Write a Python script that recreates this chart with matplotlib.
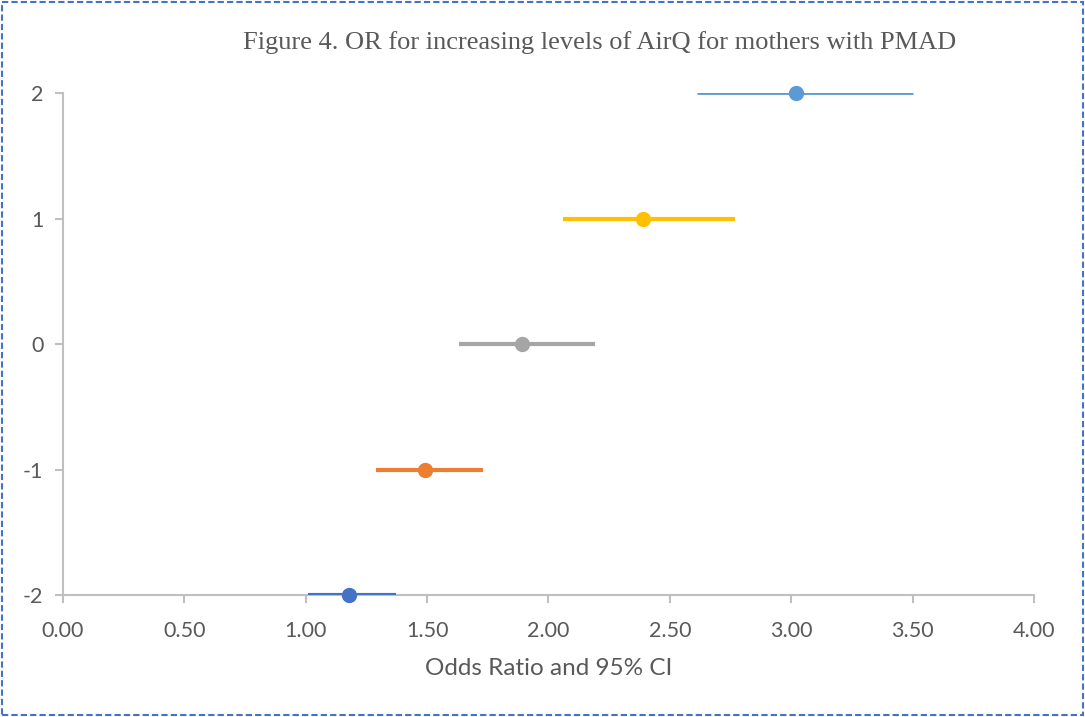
import matplotlib.pyplot as plt
from matplotlib.patches import Rectangle

plt.rcParams['axes.unicode_minus'] = False

# AirQ levels and OR with 95% CI
levels = [-2, -1, 0, 1, 2]
odds_ratio = [1.18, 1.49, 1.89, 2.39, 3.02]
ci_low = [1.01, 1.29, 1.63, 2.06, 2.61]
ci_high = [1.37, 1.73, 2.19, 2.77, 3.50]
colors = ['#4472C4', '#ED7D31', '#A5A5A5', '#FFC000', '#5B9BD5']
widths = [3, 3, 3, 3, 2]

x_ticks = [0.0, 0.5, 1.0, 1.5, 2.0, 2.5, 3.0, 3.5, 4.0]

fig = plt.figure(figsize=(10.85, 7.17), dpi=100)
ax = fig.add_axes([0.058, 0.170, 0.895, 0.700])

for y, o, lo, hi, c, w in zip(levels, odds_ratio, ci_low, ci_high, colors, widths):
    ax.plot([lo, hi], [y, y], color=c, lw=w, solid_capstyle='butt', zorder=3)
    ax.plot(o, y, 'o', color=c, markersize=10, zorder=4, clip_on=False)

ax.set_xlim(0, 4)
ax.set_ylim(-2, 2)
ax.set_xticks(x_ticks)
ax.set_xticklabels([f'{v:.2f}' for v in x_ticks])
ax.set_yticks(levels)

grey = '#BFBFBF'
for s in ['top', 'right']:
    ax.spines[s].set_visible(False)
for s in ['left', 'bottom']:
    ax.spines[s].set_color(grey)
    ax.spines[s].set_linewidth(1.5)
ax.tick_params(axis='both', colors=grey, length=6, width=1.5,
               labelcolor='#595959', labelsize=15.5)
ax.tick_params(axis='y', pad=8)
ax.tick_params(axis='x', pad=13)
for lab in ax.get_xticklabels() + ax.get_yticklabels():
    lab.set_family(['Lato', 'DejaVu Sans'])

ax.set_xlabel('Odds Ratio and 95% CI', fontsize=17.5, color='#595959',
              family=['Lato', 'DejaVu Sans'], labelpad=12)
fig.text(0.553, 0.941, 'Figure 4. OR for increasing levels of AirQ for mothers with PMAD',
         ha='center', va='center', fontsize=19, color='#595959',
         family=['Liberation Serif', 'DejaVu Serif'])

fig.patches.append(Rectangle((0.002, 0.003), 0.996, 0.994, transform=fig.transFigure,
                             fill=False, edgecolor='#4472C4', lw=1.5, ls=(0, (3, 1.5))))

plt.savefig('out.png', dpi=100)
